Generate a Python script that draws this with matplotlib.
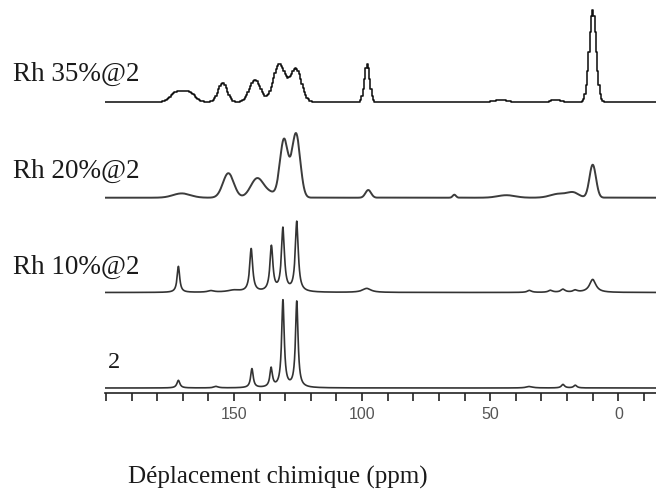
import numpy as np
import matplotlib.pyplot as plt

# peak lists: position (ppm), height (px units), FWHM (ppm)
labels = ["Rh 35%@2", "Rh 20%@2", "Rh 10%@2", "2"]
baselines = [290.7, 195.0, 100.2, 4.7]

rh35_pos = [172.5, 167.5, 154.4, 141.8, 132.3, 125.8, 98.0, 45.8, 24.3, 10.0]
rh35_h = [9.5, 9.5, 19.5, 22.0, 37.5, 33.0, 38.0, 2.0, 2.5, 92.0]
rh35_w = [5.5, 5.5, 4.0, 5.0, 5.5, 5.0, 2.4, 6.0, 4.0, 3.2]

rh20_pos = [170.4, 152.2, 140.9, 135.5, 130.5, 125.8, 97.6, 64.0, 43.7, 23.0, 17.5, 10.0]
rh20_h = [4.3, 24.5, 19.5, 4.0, 58.0, 64.0, 7.7, 3.0, 2.5, 4.0, 4.5, 33.0]
rh20_w = [8.0, 5.0, 6.0, 5.0, 3.7, 3.8, 2.6, 1.5, 8.0, 8.0, 5.0, 3.0]

rh10_pos = [171.7, 159.0, 150.0, 143.3, 135.4, 130.9, 125.5, 98.2, 34.7, 26.5, 21.6, 16.8, 10.0]
rh10_h = [26.0, 1.5, 2.0, 43.0, 45.0, 63.0, 70.0, 4.0, 2.0, 2.0, 3.0, 2.0, 13.0]
rh10_w = [1.2, 3.0, 6.0, 1.4, 1.4, 1.4, 1.4, 4.0, 2.0, 2.0, 2.0, 2.0, 3.0]

l2_pos = [171.7, 157.0, 143.0, 135.5, 130.9, 125.5, 34.7, 21.6, 16.8]
l2_h = [7.6, 1.5, 19.0, 19.0, 87.0, 86.0, 1.5, 3.5, 2.7]
l2_w = [1.4, 2.0, 1.2, 1.2, 1.2, 1.2, 3.0, 1.5, 1.5]

tick_vals = np.arange(-10, 201, 10)
tick_text = {0: "0", 50: "50", 100: "100", 150: "150"}


def gauss(x, pos, h, w):
    y = np.zeros_like(x)
    for p, a, f in zip(pos, h, w):
        y += a * np.exp(-4 * np.log(2) * ((x - p) / f) ** 2)
    return y


def lorentz(x, pos, h, w):
    y = np.zeros_like(x)
    for p, a, f in zip(pos, h, w):
        y += a / (1 + ((x - p) / (f / 2)) ** 2)
    return y


W, H = 656, 491
fig = plt.figure(figsize=(W / 100, H / 100), dpi=100)
ax = fig.add_axes([105 / W, (H - 392.7) / H, (W - 105) / W, 392.7 / H])

x_fine = np.linspace(-15, 201, 3000)
x_step = np.arange(-15, 201, 0.5)

# the top trace looks digitised, so it is drawn as steps
ax.plot(x_step, baselines[0] + gauss(x_step, rh35_pos, rh35_h, rh35_w),
        color="#111111", lw=1.15, drawstyle="steps-mid")
ax.plot(x_fine, baselines[1] + gauss(x_fine, rh20_pos, rh20_h, rh20_w),
        color="#3c3c3c", lw=1.4)
ax.plot(x_fine, baselines[2] + lorentz(x_fine, rh10_pos, rh10_h, rh10_w),
        color="#333333", lw=1.2)
ax.plot(x_fine, baselines[3] + lorentz(x_fine, l2_pos, l2_h, l2_w),
        color="#333333", lw=1.2)

ax.set_xlim(200.35, -14.7)
ax.set_ylim(0, 392.7)
for s in ["left", "right", "top"]:
    ax.spines[s].set_visible(False)
ax.spines["bottom"].set_linewidth(1.2)
ax.spines["bottom"].set_color("#222222")
ax.set_yticks([])
ax.set_xticks(tick_vals)
ax.set_xticklabels([tick_text.get(int(v), "") for v in tick_vals],
                   fontfamily="Liberation Sans", fontsize=11.5, color="#555555")
ax.tick_params(axis="x", direction="out", length=6, width=1.2, color="#222222", pad=4)

serif = "Liberation Serif"
label_y = [74, 171, 267]
for lab, yy in zip(labels[:3], label_y):
    fig.text(13 / W, 1 - yy / H, lab, fontfamily=serif, fontsize=19.5,
             va="center", ha="left", color="#1a1a1a")
fig.text(108 / W, 1 - 362 / H, labels[3], fontfamily=serif, fontsize=17.5,
         va="center", ha="left", color="#1a1a1a")

fig.text(277.5 / W, 1 - 477 / H, "Déplacement chimique (ppm)", fontfamily=serif,
         fontsize=18, va="center", ha="center", color="#1a1a1a")

fig.savefig("out.png", dpi=100)
